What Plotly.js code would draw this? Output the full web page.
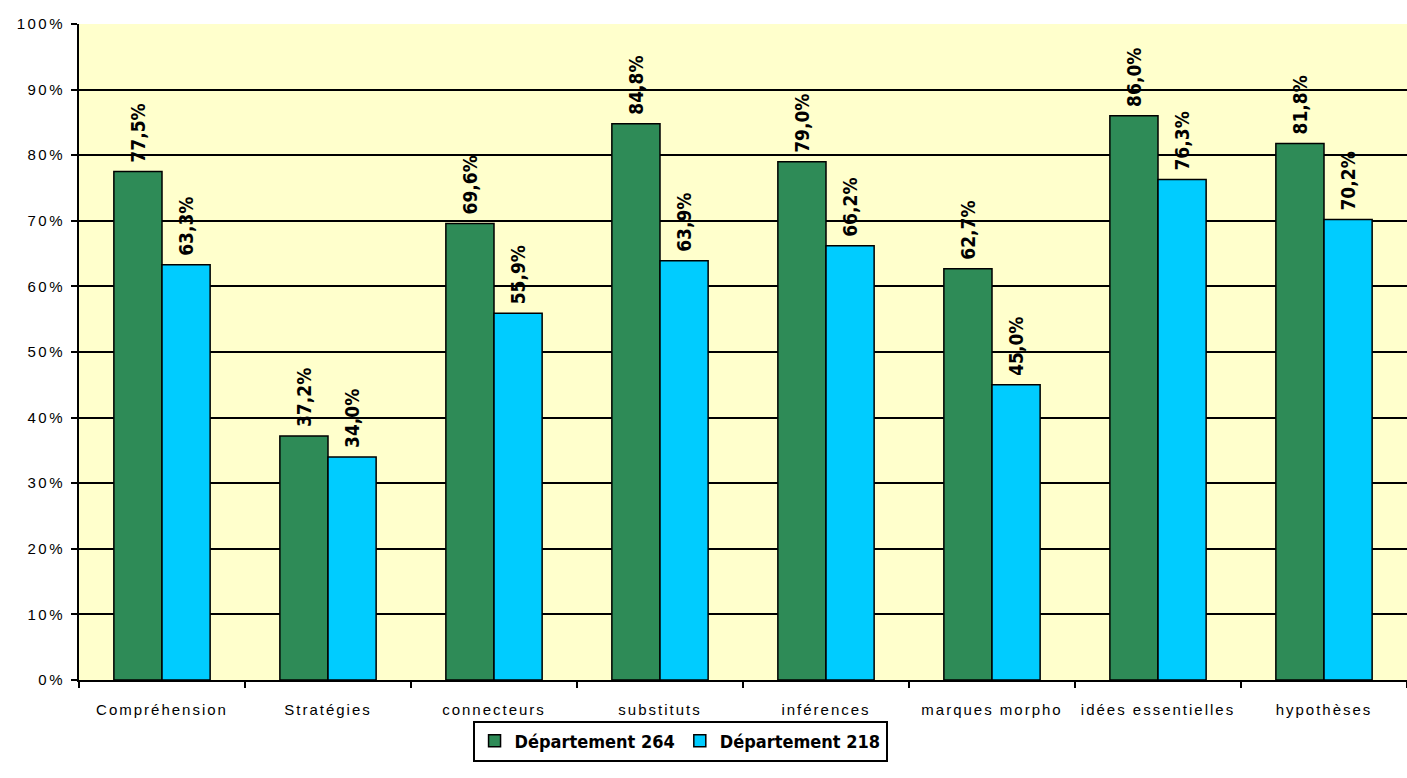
<!DOCTYPE html>
<html><head><meta charset="utf-8">
<script src="https://cdn.plot.ly/plotly-3.0.1.min.js"></script>
<style>
html,body{margin:0;padding:0;background:#fff}#c{width:1407px;height:778px}
.xtick text{letter-spacing:2px}
.ytick text{letter-spacing:2.5px}
</style>
</head><body><div id="c"></div>
<script>
const categories = ["Compréhension","Stratégies","connecteurs","substituts","inférences","marques morpho","idées essentielles","hypothèses"];
const dept264 = [77.5,37.2,69.6,84.8,79.0,62.7,86.0,81.8];
const dept218 = [63.3,34.0,55.9,63.9,66.2,45.0,76.3,70.2];
const seriesNames = ["Département 264","Département 218"];
const yTickVals = [0,10,20,30,40,50,60,70,80,90,100];
const yTickText = yTickVals.map(v => v + "%");

const fmt = v => "\u00A0" + v.toFixed(1).replace(".", ",") + "%";
const condensed = "DejaVu Sans Condensed, Liberation Sans Narrow, Arial Narrow, sans-serif";
const labelFont = {family:condensed, size:19, color:"#000", weight:"bold"};

const traces = [
  {type:"bar", name:seriesNames[0], x:categories, y:dept264, text:dept264.map(fmt),
   textposition:"outside", textangle:-90, textfont:labelFont, cliponaxis:false, constraintext:"none",
   marker:{color:"#2E8B57", line:{color:"#000", width:1.5}}},
  {type:"bar", name:seriesNames[1], x:categories, y:dept218, text:dept218.map(fmt),
   textposition:"outside", textangle:-90, textfont:labelFont, cliponaxis:false, constraintext:"none",
   marker:{color:"#00CCFF", line:{color:"#000", width:1.5}}}
];

const layout = {
  width:1407, height:778,
  margin:{l:79, r:0, t:24, b:98},
  paper_bgcolor:"#fff", plot_bgcolor:"#FFFFCC",
  barmode:"group", bargap:0.42, bargroupgap:0,
  showlegend:true,
  legend:{orientation:"h", x:0.4526, xanchor:"center", y:-0.093, yanchor:"middle",
    bordercolor:"#000", borderwidth:2, bgcolor:"#fff",
    font:{family:condensed, size:18, color:"#000", weight:"bold"},
    itemwidth:30, traceorder:"normal"},
  xaxis:{type:"category", showline:true, linecolor:"#000", linewidth:2, ticks:"outside", tickson:"boundaries",
    ticklen:6, tickcolor:"#000", tickwidth:2, showgrid:false, ticklabelstandoff:15,
    tickfont:{family:"Liberation Sans, Arial", size:15, color:"#000"}},
  yaxis:{range:[0,100], tickvals:yTickVals, ticktext:yTickText, showline:true, linecolor:"#000", linewidth:2,
    ticks:"outside", ticklen:6, tickcolor:"#000", tickwidth:2, showgrid:true, gridcolor:"#000", gridwidth:2,
    zeroline:false, ticklabelstandoff:3, tickfont:{family:"Liberation Sans, Arial", size:15, color:"#000"}},
  font:{family:"Liberation Sans, Arial", color:"#000"}
};
Plotly.newPlot("c", traces, layout, {displayModeBar:false, staticPlot:true});
</script></body></html>
